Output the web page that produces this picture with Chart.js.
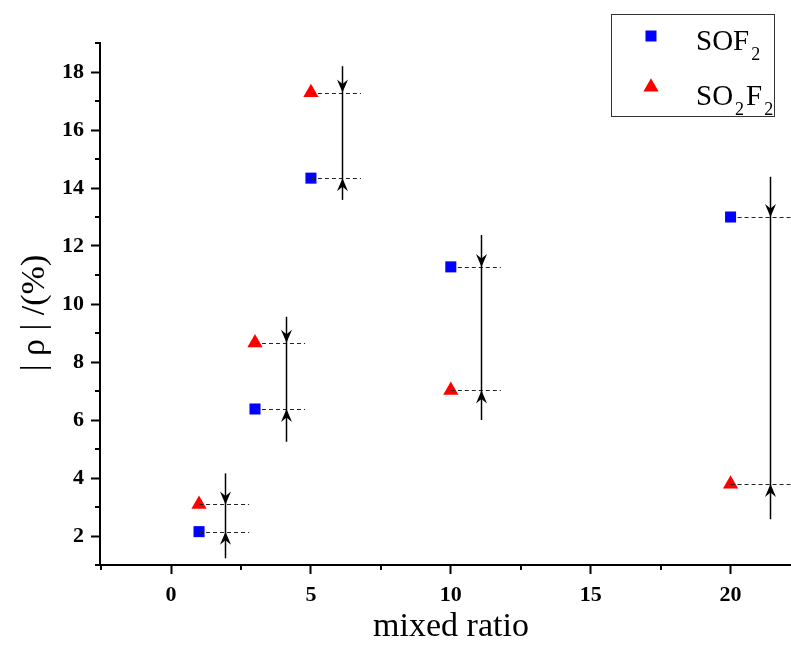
<!DOCTYPE html>
<html>
<head>
<meta charset="utf-8">
<script src="https://cdn.jsdelivr.net/npm/chart.js@4/dist/chart.umd.min.js"></script>
<style>
  html, body { margin: 0; padding: 0; background: #fff; }
  #wrap { width: 791px; height: 653px; }
</style>
</head>
<body>
<div id="wrap"><canvas id="c" width="791" height="653"></canvas></div>
<script>
// mixing ratios and the measured |ρ| for each gas
const mixRatios   = [1, 3, 5, 10, 20];
const sof2Values  = [2.15, 6.38, 14.34, 11.28, 13.0];
const so2f2Values = [3.09, 8.66, 17.29, 7.02, 3.79];

// difference bars: x of each vertical bar, where it starts and ends, and how far the dashed guides run
const diffBarX      = [1.93, 4.12, 6.10, 11.08, 21.41];
const diffBarTop    = [4.16, 9.56, 18.2, 12.38, 14.39];
const diffBarBottom = [1.23, 5.25, 13.59, 6.0, 2.58];
const guideEndX     = [2.79, 4.79, 6.79, 11.79, 22.16];

// axis ticks and titles
const xTicks      = [0, 5, 10, 15, 20];
const xMinorTicks = [-2.5, 2.5, 7.5, 12.5, 17.5];
const yTicks      = [2, 4, 6, 8, 10, 12, 14, 16, 18];
const yMinorTicks = [1, 3, 5, 7, 9, 11, 13, 15, 17, 19];
const xTitle = 'mixed ratio';
const yTitle = '| ρ | /(%)';

const SERIF = '"Liberation Serif", "Times New Roman", serif';
const BLUE = '#0000ff';
const RED = '#ff0000';

const minorTicks = {
  id: 'minorTicks',
  afterDraw(chart) {
    const { ctx, scales: { x, y }, chartArea } = chart;
    ctx.save();
    ctx.strokeStyle = '#000';
    ctx.lineWidth = 2;
    ctx.beginPath();
    xMinorTicks.forEach(v => {
      const px = Math.round(x.getPixelForValue(v));
      ctx.moveTo(px, chartArea.bottom);
      ctx.lineTo(px, chartArea.bottom + 5);
    });
    yMinorTicks.forEach(v => {
      const py = Math.round(y.getPixelForValue(v));
      ctx.moveTo(chartArea.left, py);
      ctx.lineTo(chartArea.left - 5, py);
    });
    ctx.stroke();
    ctx.restore();
  }
};

// axis titles, placed by hand around the plot area
const axisTitles = {
  id: 'axisTitles',
  afterDraw(chart) {
    const { ctx, chartArea } = chart;
    ctx.save();
    ctx.fillStyle = '#000';
    ctx.font = `34px ${SERIF}`;
    ctx.textAlign = 'center';
    ctx.textBaseline = 'alphabetic';
    ctx.fillText(xTitle, chartArea.left + 351, 636);
    ctx.translate(35, chartArea.top + 270);
    ctx.rotate(-Math.PI / 2);
    ctx.textBaseline = 'middle';
    ctx.fillText(yTitle, 0, 0);
    ctx.restore();
  }
};

function arrowHead(ctx, x, tipY, dir) {
  // dir = 1 points down, dir = -1 points up
  const len = 13, hw = 5.5, notch = 4.5;
  ctx.beginPath();
  ctx.moveTo(x, tipY);
  ctx.lineTo(x - hw, tipY - dir * len);
  ctx.lineTo(x, tipY - dir * (len - notch));
  ctx.lineTo(x + hw, tipY - dir * len);
  ctx.closePath();
  ctx.fill();
}

const diffBars = {
  id: 'diffBars',
  afterDatasetsDraw(chart) {
    const { ctx, scales: { x, y } } = chart;
    ctx.save();
    mixRatios.forEach((m, i) => {
      const px0 = x.getPixelForValue(m);
      const pxEnd = x.getPixelForValue(guideEndX[i]);
      const barX = Math.round(x.getPixelForValue(diffBarX[i])) + 0.5;
      const levels = [sof2Values[i], so2f2Values[i]];
      // dashed guides from each point to the bar
      ctx.strokeStyle = '#222';
      ctx.lineWidth = 1;
      ctx.setLineDash([4, 3]);
      levels.forEach(v => {
        const py = Math.round(y.getPixelForValue(v)) + 0.5;
        ctx.beginPath();
        ctx.moveTo(px0, py);
        ctx.lineTo(pxEnd, py);
        ctx.stroke();
      });
      ctx.setLineDash([]);
      // vertical bar
      ctx.strokeStyle = '#000';
      ctx.lineWidth = 1.5;
      ctx.beginPath();
      ctx.moveTo(barX, y.getPixelForValue(diffBarTop[i]));
      ctx.lineTo(barX, y.getPixelForValue(diffBarBottom[i]));
      ctx.stroke();
      // arrowheads pointing in at both levels
      ctx.fillStyle = '#000';
      const hi = Math.max(...levels), lo = Math.min(...levels);
      arrowHead(ctx, barX, y.getPixelForValue(hi), 1);
      arrowHead(ctx, barX, y.getPixelForValue(lo), -1);
    });
    ctx.restore();
  }
};

function drawFormula(ctx, parts, x, baseline) {
  // parts: [text, isSubscript]
  let cx = x;
  parts.forEach(([t, sub]) => {
    ctx.font = sub ? `18px ${SERIF}` : `29px ${SERIF}`;
    const yy = sub ? baseline + 10 : baseline;
    if (sub) cx += 2;
    ctx.fillText(t, cx, yy);
    cx += ctx.measureText(t).width + (sub ? 2 : 0);
  });
}

const legendBox = {
  id: 'legendBox',
  afterDraw(chart) {
    const { ctx } = chart;
    ctx.save();
    ctx.strokeStyle = '#333';
    ctx.lineWidth = 1;
    ctx.fillStyle = '#fff';
    ctx.fillRect(611.5, 14.5, 163, 102);
    ctx.strokeRect(611.5, 14.5, 163, 102);
    // square marker
    ctx.fillStyle = BLUE;
    ctx.fillRect(645.5, 30.5, 11, 11);
    // triangle marker
    ctx.fillStyle = RED;
    const tx = 651, ty = 87, r = 8.8;
    ctx.beginPath();
    ctx.moveTo(tx, ty - r);
    ctx.lineTo(tx + r * 0.866, ty + r * 0.5);
    ctx.lineTo(tx - r * 0.866, ty + r * 0.5);
    ctx.closePath();
    ctx.fill();
    ctx.fillStyle = '#000';
    ctx.textBaseline = 'alphabetic';
    ctx.textAlign = 'left';
    drawFormula(ctx, [['SOF', false], ['2', true]], 696, 50);
    drawFormula(ctx, [['SO', false], ['2', true], ['F', false], ['2', true]], 696, 105);
    ctx.restore();
  }
};

new Chart(document.getElementById('c'), {
  type: 'scatter',
  data: {
    datasets: [
      {
        label: 'SOF2',
        data: mixRatios.map((m, i) => ({ x: m, y: sof2Values[i] })),
        pointStyle: 'rect',
        pointRadius: 7.8,
        backgroundColor: BLUE,
        borderWidth: 0
      },
      {
        label: 'SO2F2',
        data: mixRatios.map((m, i) => ({ x: m, y: so2f2Values[i] })),
        pointStyle: 'triangle',
        pointRadius: 8.8,
        backgroundColor: RED,
        borderWidth: 0
      }
    ]
  },
  options: {
    responsive: false,
    animation: false,
    devicePixelRatio: 1,
    layout: { autoPadding: false, padding: { top: 43, right: 0, left: 0, bottom: 0 } },
    plugins: { legend: { display: false }, tooltip: { enabled: false } },
    scales: {
      x: {
        type: 'linear',
        min: -2.54,
        max: 22.16,
        afterBuildTicks: s => { s.ticks = xTicks.map(v => ({ value: v })); },
        afterFit: s => { s.height = 88; s.paddingLeft = 0; s.paddingRight = 0; },
        border: { display: true, color: '#000', width: 2 },
        grid: { drawOnChartArea: false, drawTicks: true, tickLength: 9, tickWidth: 2, tickColor: '#000' },
        ticks: { color: '#000', padding: 8, maxRotation: 0, font: { family: SERIF, size: 22, weight: 'bold' } }
      },
      y: {
        min: 1,
        max: 19,
        afterBuildTicks: s => { s.ticks = yTicks.map(v => ({ value: v })); },
        afterFit: s => { s.width = 100; },
        border: { display: true, color: '#000', width: 2 },
        grid: { drawOnChartArea: false, drawTicks: true, tickLength: 9, tickWidth: 2, tickColor: '#000' },
        ticks: { color: '#000', padding: 7, font: { family: SERIF, size: 22, weight: 'bold' } }
      }
    }
  },
  plugins: [minorTicks, diffBars, axisTitles, legendBox]
});
</script>
</body>
</html>
